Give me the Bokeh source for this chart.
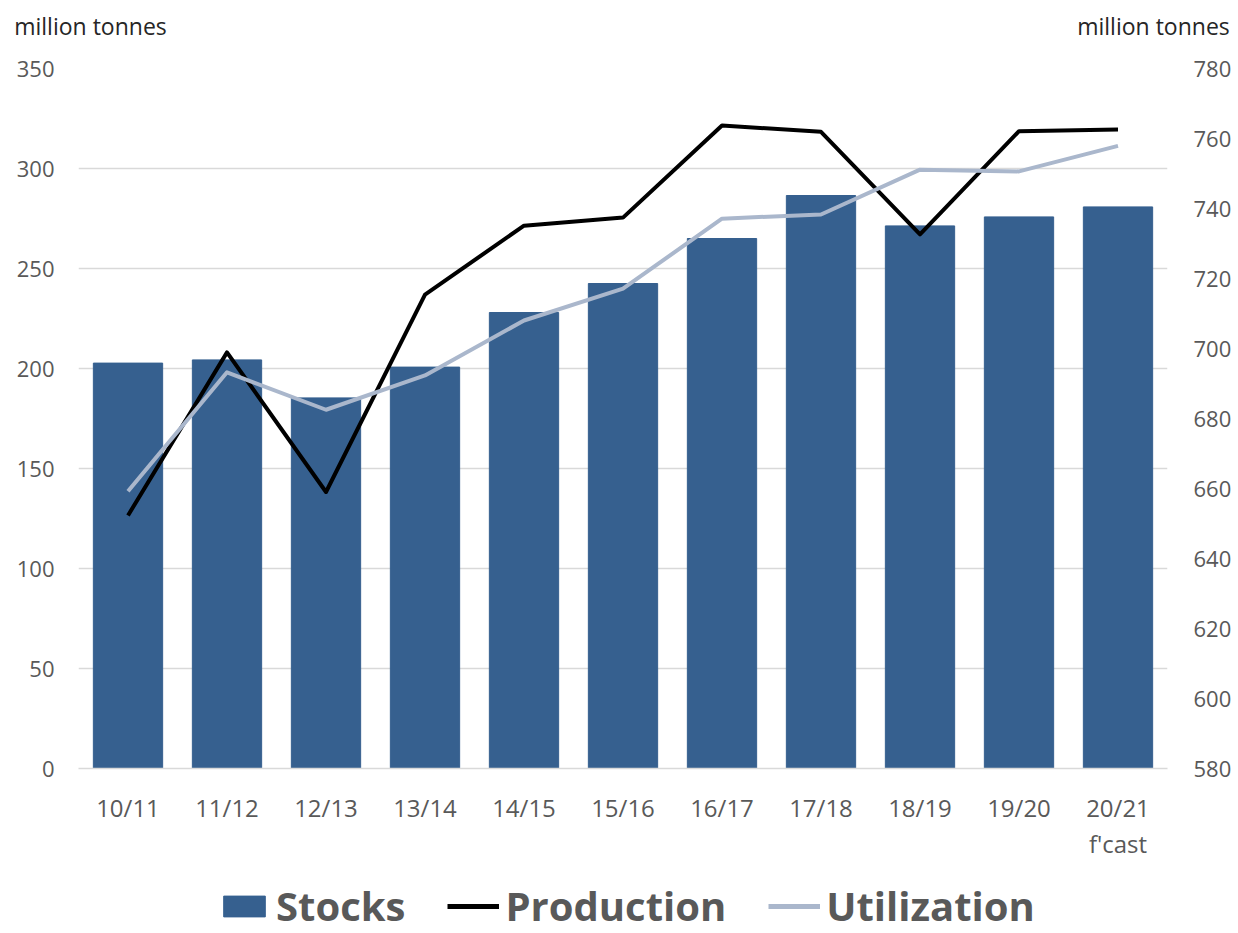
from bokeh.plotting import figure
from bokeh.layouts import column
from bokeh.models import (Range1d, LinearAxis, Legend, LegendItem, FixedTicker,
                          ColumnDataSource)
from bokeh.embed import file_html
from bokeh.resources import INLINE

seasons = ["10/11", "11/12", "12/13", "13/14", "14/15", "15/16",
           "16/17", "17/18", "18/19", "19/20", "20/21"]
forecast_note = {"20/21": "f'cast"}
stocks = [202.7, 204.3, 185.3, 200.7, 228, 242.5, 265, 286.5, 271.3, 275.8, 280.8]
production = [652.3, 698.9, 659.0, 715.4, 735.1, 737.4, 763.7, 761.9, 732.6, 762.1, 762.6]
utilization = [659.2, 693.2, 682.5, 692.3, 708.0, 717.1, 737.1, 738.3, 751.1, 750.6, 757.9]
left_ticks = [0, 50, 100, 150, 200, 250, 300, 350]
right_ticks = [580, 600, 620, 640, 660, 680, 700, 720, 740, 760, 780]
unit_label = "million tonnes"
series_names = ["Stocks", "Production", "Utilization"]

FONT = "Open Sans"
TICK_COLOR = "#595959"
BAR_COLOR = "#36608f"
PROD_COLOR = "black"
UTIL_COLOR = "#aab7cc"

pos = list(range(len(seasons)))
src = ColumnDataSource(dict(x=pos, season=seasons, stocks=stocks,
                            production=production, utilization=utilization))

p = figure(width=1238, height=868,
           x_range=Range1d(-0.5, len(seasons) - 0.5),
           y_range=Range1d(0, 350), output_backend="svg", toolbar_location=None,
           min_border_left=78, min_border_right=71, min_border_top=68,
           min_border_bottom=100)
p.outline_line_color = None
p.background_fill_color = "white"
p.border_fill_color = "white"
p.extra_y_ranges = {"right": Range1d(580, 780)}
p.extra_x_ranges = {"units": Range1d(0, 1089)}

p.vbar(x="x", top="stocks", width=0.7, color=BAR_COLOR, source=src)
p.line(x="x", y="production", y_range_name="right", line_color=PROD_COLOR,
       line_width=4, line_join="round", source=src)
p.line(x="x", y="utilization", y_range_name="right", line_color=UTIL_COLOR,
       line_width=4, line_join="round", source=src)

# grid
p.xgrid.grid_line_color = None
p.ygrid.grid_line_color = "#d9d9d9"
p.ygrid.grid_line_width = 1.5
p.ygrid.ticker = FixedTicker(ticks=left_ticks)


def plain(axis):
    axis.major_tick_line_color = None
    axis.minor_tick_line_color = None
    axis.major_tick_out = 0
    axis.major_tick_in = 0
    axis.major_label_text_font = FONT
    axis.major_label_text_color = TICK_COLOR


# x axis (season labels)
xa = p.xaxis[0]
xa.ticker = FixedTicker(ticks=pos)
xa.major_label_overrides = {i: s for i, s in zip(pos, seasons)}
plain(xa)
xa.axis_line_color = "#d9d9d9"
xa.axis_line_width = 1.5
xa.major_label_text_font_size = "24px"
xa.major_label_standoff = 22

# second line under the last category
note_ticks = [i for i, s in zip(pos, seasons) if s in forecast_note]
xa2 = LinearAxis(ticker=FixedTicker(ticks=note_ticks),
                 major_label_overrides={i: forecast_note[seasons[i]] for i in note_ticks})
plain(xa2)
xa2.axis_line_color = None
xa2.major_label_text_font_size = "24px"
xa2.major_label_standoff = 0
p.add_layout(xa2, "below")

# left axis
ya = p.yaxis[0]
ya.ticker = FixedTicker(ticks=left_ticks)
plain(ya)
ya.axis_line_color = None
ya.major_label_text_font_size = "22px"
ya.major_label_standoff = 24

# right axis
ra = LinearAxis(y_range_name="right", ticker=FixedTicker(ticks=right_ticks))
plain(ra)
ra.axis_line_color = None
ra.major_label_text_font_size = "22px"
ra.major_label_standoff = 26
p.add_layout(ra, "right")

# unit captions above both value axes
ua = LinearAxis(x_range_name="units", ticker=FixedTicker(ticks=[12, 1075]),
                major_label_overrides={12: unit_label, 1075: unit_label})
plain(ua)
ua.axis_line_color = None
ua.major_label_text_color = "#262626"
ua.major_label_text_font_size = "23px"
ua.major_label_standoff = 27
p.add_layout(ua, "above")

# legend strip below the chart (its frame is aligned with the chart's frame);
# the series are drawn here below the visible range so only the legend shows
lg = figure(width=1238, height=65,
            x_range=Range1d(-0.5, len(seasons) - 0.5), y_range=Range1d(1000, 1300),
            output_backend="svg", toolbar_location=None,
            x_axis_location=None, y_axis_location=None,
            min_border_left=0, min_border_right=0, min_border_top=0,
            min_border_bottom=0)
lg.outline_line_color = None
lg.grid.visible = False
r_stock = lg.vbar(x="x", top="stocks", width=0.7, color=BAR_COLOR, source=src)
r_prod = lg.line(x="x", y="production", line_color=PROD_COLOR, line_width=5, source=src)
r_util = lg.line(x="x", y="utilization", line_color=UTIL_COLOR, line_width=5, source=src)

legend = Legend(items=[LegendItem(label=n, renderers=[r])
                       for n, r in zip(series_names, [r_stock, r_prod, r_util])],
                orientation="horizontal", location=(140, 0),
                label_text_font=FONT, label_text_font_size="40px",
                label_text_font_style="bold", label_text_color=TICK_COLOR,
                glyph_width=52, glyph_height=26, spacing=42, label_standoff=6,
                border_line_color=None, background_fill_alpha=0,
                padding=0, margin=0)
lg.add_layout(legend, "center")

open("out.html", "w").write(file_html(column(p, lg), INLINE))
